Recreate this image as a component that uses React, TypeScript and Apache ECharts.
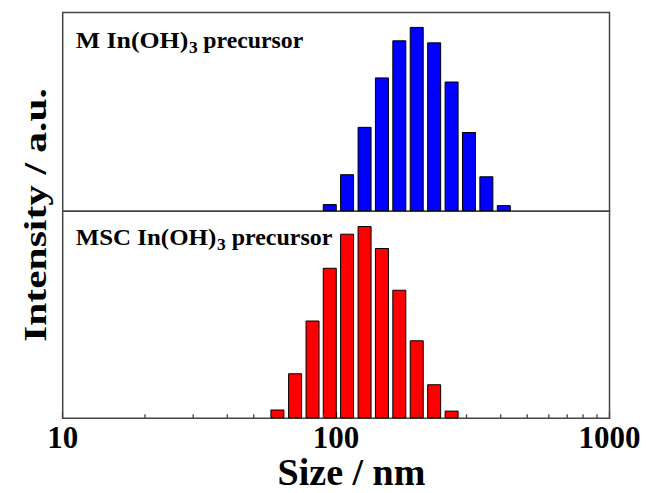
import React, { useEffect, useRef } from 'react';
import * as echarts from 'echarts';

// Bin centres (nm) and intensities
const topSizes = [94.8, 109.7, 127.1, 147.1, 170.3, 197.2, 228.4, 264.5, 306.2, 354.5, 410.6];
const topIntensity = [0.7, 3.6, 8.2, 13.0, 16.6, 17.9, 16.4, 12.6, 7.7, 3.4, 0.6];
const bottomSizes = [61.0, 70.8, 82.0, 94.8, 109.7, 127.1, 147.1, 170.3, 197.2, 228.4, 264.5];
const bottomIntensity = [0.8, 4.1, 8.9, 13.7, 16.8, 17.5, 15.5, 11.7, 7.1, 3.1, 0.7];
const minorTickValues = [20, 30, 40, 50, 60, 70, 80, 90, 200, 300, 400, 500, 600, 700, 800, 900];
const topLabelParts = ['M In(OH)', '3', 'precursor'];
const bottomLabelParts = ['MSC In(OH)', '3', 'precursor'];
const xTitle = 'Size / nm';
const yTitle = 'Intensity / a.u.';

const FAMILY = '"Times New Roman", "Liberation Serif", serif';
const AXIS_COLOR = '#444';

function measure(text: string, size: number): number {
  const c = document.createElement('canvas').getContext('2d')!;
  c.font = `bold ${size}px ${FAMILY}`;
  return c.measureText(text).width || text.length * size * 0.5;
}

function textEl(text: string, x0: number, x1: number, baseline: number, size: number) {
  const w = measure(text, size);
  return {
    type: 'text',
    x: x0,
    y: baseline - 0.3375 * size,
    scaleX: (x1 - x0) / w,
    silent: true,
    style: {
      text,
      fontSize: size,
      fontWeight: 'bold',
      fontFamily: FAMILY,
      fill: '#000',
      align: 'left',
      textAlign: 'left',
      verticalAlign: 'middle',
      textVerticalAlign: 'middle',
    },
  };
}

export default function App() {
  const ref = useRef<HTMLDivElement>(null);
  useEffect(() => {
    if (!ref.current) return;
    const chart = echarts.init(ref.current, undefined, { renderer: 'svg' });

    const gridLeft = 62.7;
    const gridRight = 646 - 609.5;
    const topY = 12.5;
    const midY = 211.3;
    const botY = 418.3;

    const yLen = 254;
    const ySize = 40;
    const yW = measure(yTitle, ySize);

    const option: any = {
      animation: false,
      grid: [
        { left: gridLeft, right: gridRight, top: topY, height: midY - topY, show: true, borderColor: AXIS_COLOR, borderWidth: 1.5, backgroundColor: 'transparent' },
        { left: gridLeft, right: gridRight, top: midY, height: botY - midY, show: true, borderColor: AXIS_COLOR, borderWidth: 1.5, backgroundColor: 'transparent' },
      ],
      xAxis: [
        {
          gridIndex: 0, type: 'log', logBase: 10, min: 10, max: 1000,
          axisLine: { show: false }, axisTick: { show: false }, axisLabel: { show: false }, splitLine: { show: false },
        },
        {
          gridIndex: 1, type: 'log', logBase: 10, min: 10, max: 1000,
          axisLine: { show: false },
          axisTick: { show: true, inside: true, length: 6, lineStyle: { color: AXIS_COLOR, width: 1.3 } },
          axisLabel: {
            show: true, fontSize: 31, fontWeight: 'bold', fontFamily: FAMILY, color: '#000', margin: 4,
            formatter: (v: number) => String(Math.round(v)),
          },
          splitLine: { show: false },
          minorTick: { show: false },
        },
      ],
      yAxis: [
        { gridIndex: 0, type: 'value', min: 0, max: 19.3, show: false, splitLine: { show: false } },
        { gridIndex: 1, type: 'value', min: 0, max: 18.84, show: false, splitLine: { show: false } },
      ],
      series: [
        {
          type: 'bar', xAxisIndex: 0, yAxisIndex: 0, barWidth: 14,
          data: topSizes.map((s, i) => [s, topIntensity[i]]),
          itemStyle: { color: '#0000FF', borderColor: '#000', borderWidth: 1 },
        },
        {
          type: 'bar', xAxisIndex: 1, yAxisIndex: 1, barWidth: 14,
          data: bottomSizes.map((s, i) => [s, bottomIntensity[i]]),
          itemStyle: { color: '#FF0000', borderColor: '#000', borderWidth: 1 },
        },
        {
          type: 'custom', xAxisIndex: 1, yAxisIndex: 1, z: 10, silent: true, clip: false,
          data: minorTickValues.map((v) => [v, 0]),
          renderItem: (params: any, api: any) => {
            const p = api.coord([api.value(0), 0]);
            return {
              type: 'line',
              shape: { x1: p[0], y1: p[1], x2: p[0], y2: p[1] - 4 },
              style: { stroke: AXIS_COLOR, lineWidth: 1.3 },
            };
          },
        },
      ],
      graphic: [
        textEl(topLabelParts[0], 75.7, 188.3, 47.7, 23),
        textEl(topLabelParts[1], 189, 197.7, 53.5, 17),
        textEl(topLabelParts[2], 203.3, 303.3, 47.7, 23),
        textEl(bottomLabelParts[0], 75.7, 216.3, 245, 23),
        textEl(bottomLabelParts[1], 217, 225.7, 250.5, 17),
        textEl(bottomLabelParts[2], 231.7, 332.3, 245, 23),
        {
          type: 'text', x: 351.5, y: 485 - 0.3375 * 38, silent: true,
          style: { text: xTitle, fontSize: 38, fontWeight: 'bold', fontFamily: FAMILY, fill: '#000', align: 'center', textAlign: 'center', verticalAlign: 'middle', textVerticalAlign: 'middle' },
        },
        {
          type: 'text', x: 35.4, y: 215, rotation: Math.PI / 2, scaleX: yLen / yW, scaleY: 0.78, silent: true,
          style: { text: yTitle, fontSize: ySize, fontWeight: 'bold', fontFamily: FAMILY, fill: '#000', align: 'center', textAlign: 'center', verticalAlign: 'middle', textVerticalAlign: 'middle' },
        },
      ],
    };
    chart.setOption(option);
    return () => chart.dispose();
  }, []);
  return <div ref={ref} style={{ width: 646, height: 493, position: 'absolute', left: 0, top: 0 }} />;
}
